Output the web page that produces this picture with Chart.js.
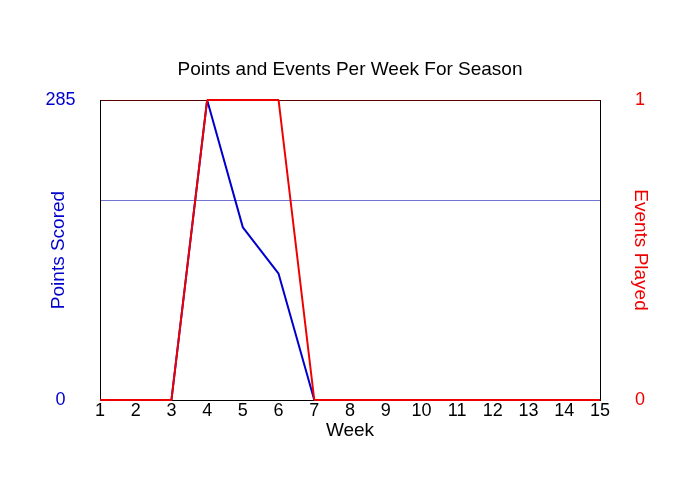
<!DOCTYPE html>
<html>
<head>
<meta charset="utf-8">
<script src="https://cdn.jsdelivr.net/npm/chart.js@4"></script>
<style>
  html, body { margin: 0; padding: 0; background: #fff; }
  #wrap { width: 700px; height: 500px; }
</style>
</head>
<body>
<div id="wrap"><canvas id="seasonChart" width="700" height="500"></canvas></div>
<script>
// --- Data ---
const weeks = ['1','2','3','4','5','6','7','8','9','10','11','12','13','14','15'];
const pointsScored = [0, 0, 0, 285, 164, 120, 0, 0, 0, 0, 0, 0, 0, 0, 0];
const eventsPlayed = [0, 0, 0, 1, 1, 1, 0, 0, 0, 0, 0, 0, 0, 0, 0];
const pointsTicks = [0, 190, 285];   // 190 = the thin reference line, no label
const referenceLevel = 190;
const pointsMax = 285;
const eventsMax = 1;

const BLUE = '#0000cc';
const RED = '#ee0000';
const FONT = "'Liberation Sans', Arial, sans-serif";

const ctx = document.getElementById('seasonChart').getContext('2d');

new Chart(ctx, {
    type: 'line',
    data: {
        labels: weeks,
        datasets: [
            {
                label: 'Points Scored',
                data: pointsScored,
                yAxisID: 'yPoints',
                borderColor: BLUE,
                borderWidth: 2,
                borderJoinStyle: 'bevel',
                pointRadius: 0,
                tension: 0,
                clip: 4,
                order: 1
            },
            {
                label: 'Events Played',
                data: eventsPlayed,
                yAxisID: 'yEvents',
                borderColor: RED,
                borderWidth: 2,
                borderJoinStyle: 'bevel',
                pointRadius: 0,
                tension: 0,
                clip: 4,
                order: 0   // drawn on top, as in the original
            }
        ]
    },
    options: {
        responsive: false,
        animation: false,
        devicePixelRatio: 1,
        layout: { padding: 0 },
        plugins: {
            legend: { display: false },
            tooltip: { enabled: false },
            title: {
                display: true,
                text: 'Points and Events Per Week For Season',
                color: '#000',
                font: { family: FONT, size: 19, weight: 'normal' },
                padding: { top: 58.5, bottom: 18.7 }
            }
        },
        scales: {
            x: {
                position: 'bottom',
                offset: false,
                grid: { display: false, drawTicks: false },
                border: { display: true, color: '#000', width: 1 },
                ticks: {
                    color: '#000',
                    padding: 0,
                    maxRotation: 0,
                    autoSkip: false,
                    font: { family: FONT, size: 18 }
                },
                title: {
                    display: true,
                    text: 'Week',
                    color: '#000',
                    font: { family: FONT, size: 19 },
                    padding: { top: 0, bottom: 57.6 }
                },
                afterFit: s => { s.height = 100; }
            },
            xTop: {
                position: 'top',
                type: 'category',
                labels: weeks,
                offset: false,
                grid: { display: false, drawTicks: false },
                border: { display: true, color: '#5a0000', width: 1 },
                ticks: { display: false },
                afterFit: s => { s.height = 0; }
            },
            yPoints: {
                position: 'left',
                min: 0,
                max: pointsMax,
                afterBuildTicks: s => { s.ticks = pointsTicks.map(v => ({ value: v })); },
                grid: {
                    display: true,
                    drawTicks: false,
                    lineWidth: 1,
                    color: c => (c.tick && c.tick.value === referenceLevel) ? '#7373d2' : 'rgba(0,0,0,0)'
                },
                border: { display: true, color: '#000', width: 1 },
                ticks: {
                    color: BLUE,
                    padding: 24.5,
                    crossAlign: 'center',
                    font: { family: FONT, size: 18 },
                    callback: v => (v === referenceLevel ? '' : v)
                },
                title: {
                    display: true,
                    text: 'Points Scored',
                    color: BLUE,
                    font: { family: FONT, size: 19 },
                    padding: { top: 47.6, bottom: 0 }
                },
                afterFit: s => { s.width = 100; }
            },
            yEvents: {
                position: 'right',
                min: 0,
                max: eventsMax,
                grid: { display: false, drawTicks: false },
                border: { display: true, color: '#000', width: 1 },
                ticks: {
                    stepSize: 1,
                    color: RED,
                    padding: 35,
                    crossAlign: 'center',
                    font: { family: FONT, size: 18 }
                },
                title: {
                    display: true,
                    text: 'Events Played',
                    color: RED,
                    font: { family: FONT, size: 19 },
                    padding: { top: 48.6, bottom: 0 }
                },
                afterFit: s => { s.width = 100; }
            }
        }
    }
});
</script>
</body>
</html>
